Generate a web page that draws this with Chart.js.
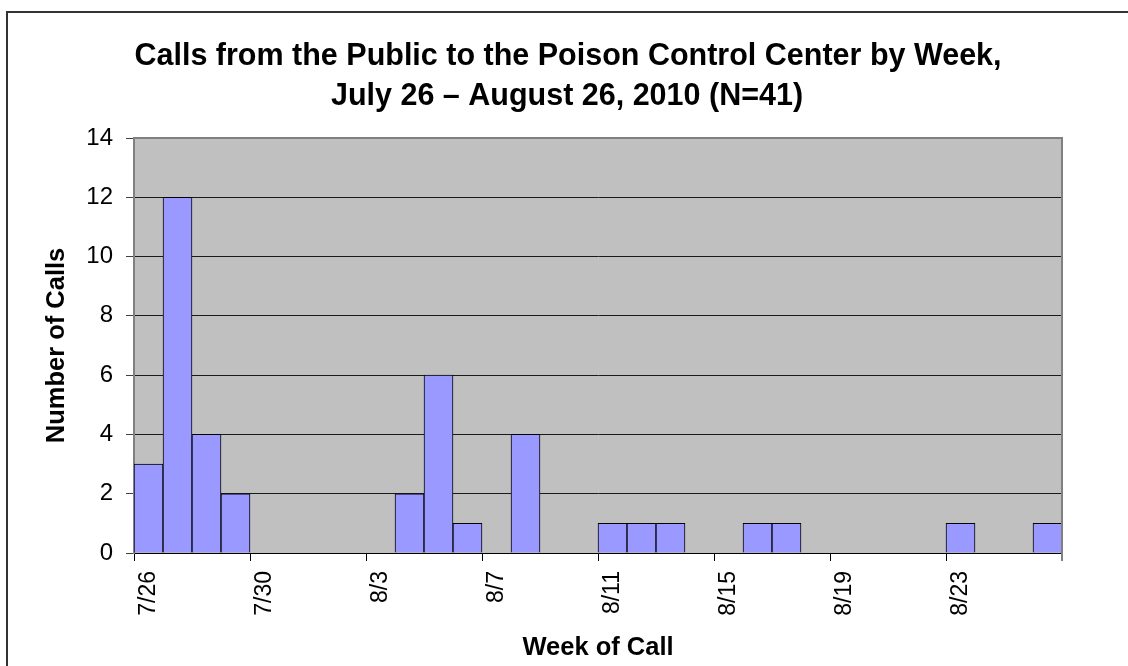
<!DOCTYPE html>
<html>
<head>
<meta charset="utf-8">
<script src="https://cdn.jsdelivr.net/npm/chart.js@4.4.0/dist/chart.umd.min.js"></script>
<style>
  html, body { margin: 0; padding: 0; background: #fff; }
  #wrap { position: relative; width: 1128px; height: 666px; }
</style>
</head>
<body>
<div id="wrap"><canvas id="callsChart" width="1128" height="666"></canvas></div>
<script>
// one bar per day, 7/26 .. 8/26
var days = ['7/26', '7/27', '7/28', '7/29', '7/30', '7/31', '8/1', '8/2',
            '8/3', '8/4', '8/5', '8/6', '8/7', '8/8', '8/9', '8/10',
            '8/11', '8/12', '8/13', '8/14', '8/15', '8/16', '8/17', '8/18',
            '8/19', '8/20', '8/21', '8/22', '8/23', '8/24', '8/25', '8/26'];
var calls = [3, 12, 4, 2, 0, 0, 0, 0,
             0, 2, 6, 1, 0, 4, 0, 0,
             1, 1, 1, 0, 0, 1, 1, 0,
             0, 0, 0, 0, 1, 0, 0, 1];
var yMax = 14;
var yStep = 2;
var labelEvery = 4;   // only every 4th day gets a label

var titleLines = ['Calls from the Public to the Poison Control Center by Week,',
                  'July 26 \u2013 August 26, 2010 (N=41)'];

var FONT = "'Liberation Sans', Arial, Helvetica, sans-serif";

// grey plot area + its frame, the outer figure frame and the title
var framePlugin = {
    id: 'framePlugin',
    beforeDraw: function(chart) {
        var a = chart.chartArea;
        var ctx = chart.ctx;
        ctx.save();
        ctx.fillStyle = '#C0C0C0';
        ctx.fillRect(a.left, a.top, a.right - a.left, a.bottom - a.top);
        ctx.restore();
    },
    afterDraw: function(chart) {
        var a = chart.chartArea;
        var ctx = chart.ctx;
        ctx.save();
        // plot border (top + right)
        ctx.strokeStyle = '#808080';
        ctx.lineWidth = 2;
        ctx.beginPath();
        ctx.moveTo(a.left, a.top);
        ctx.lineTo(a.right, a.top);
        ctx.lineTo(a.right, a.bottom + 8);
        ctx.stroke();
        // figure frame
        ctx.strokeStyle = '#333';
        ctx.beginPath();
        ctx.moveTo(7, chart.height + 2);
        ctx.lineTo(7, 12);
        ctx.lineTo(chart.width + 2, 12);
        ctx.stroke();
        // title
        ctx.fillStyle = '#000';
        ctx.font = 'bold 30.5px ' + FONT;
        ctx.textAlign = 'center';
        ctx.textBaseline = 'middle';
        ctx.fillText(titleLines[0], 568, 57);
        ctx.fillText(titleLines[1], 567, 97);
        ctx.restore();
    }
};

var chart = new Chart(document.getElementById('callsChart'), {
    type: 'bar',
    data: {
        labels: days,
        datasets: [{
            data: calls,
            backgroundColor: '#9999FF',
            borderColor: '#000',
            borderWidth: 1,
            categoryPercentage: 1,
            barPercentage: 1
        }]
    },
    options: {
        responsive: false,
        animation: false,
        devicePixelRatio: 1,
        layout: { padding: { top: 138, right: 66, bottom: 0, left: 0 } },
        plugins: {
            legend: { display: false },
            tooltip: { enabled: false },
            title: { display: false }
        },
        scales: {
            x: {
                afterFit: function(scale) { scale.height = 113; },
                grid: {
                    drawOnChartArea: false,
                    drawTicks: true,
                    tickLength: 8,
                    color: function(c) {
                        if (c.index === undefined) return '#808080';
                        return c.index % labelEvery === 0 ? '#000' : 'rgba(0,0,0,0)';
                    }
                },
                border: { color: '#000', width: 1 },
                ticks: {
                    autoSkip: false,
                    maxRotation: 90,
                    minRotation: 90,
                    padding: 10,
                    color: '#000',
                    font: { family: FONT, size: 23 },
                    callback: function(v, i) {
                        return i % labelEvery === 0 ? days[i] : '';
                    }
                },
                title: {
                    display: true,
                    text: 'Week of Call',
                    color: '#000',
                    font: { family: FONT, size: 25.5, weight: 'bold', lineHeight: 1.2 },
                    padding: { top: 0, bottom: 3 }
                }
            },
            y: {
                min: 0,
                max: yMax,
                afterFit: function(scale) { scale.width = 134; },
                grid: {
                    color: '#1a1a1a',
                    tickColor: '#404040',
                    tickLength: 8
                },
                border: { color: '#808080', width: 2 },
                ticks: {
                    stepSize: yStep,
                    padding: 13,
                    color: '#000',
                    font: { family: FONT, size: 24 }
                },
                title: {
                    display: true,
                    text: 'Number of Calls',
                    color: '#000',
                    font: { family: FONT, size: 25.5, weight: 'bold', lineHeight: 1.2 },
                    padding: { top: 42, bottom: 0 }
                }
            }
        }
    },
    plugins: [framePlugin]
});
</script>
</body>
</html>
